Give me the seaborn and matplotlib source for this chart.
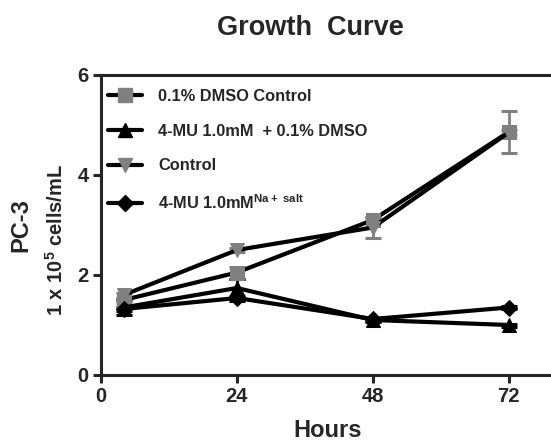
import numpy as np
import pandas as pd
import seaborn as sns
import matplotlib
matplotlib.use("Agg")
import matplotlib.pyplot as plt
from matplotlib.lines import Line2D

# ---- data ----
hours = [4, 24, 48, 72]
series_names = ["0.1% DMSO Control", "4-MU 1.0mM + 0.1% DMSO", "Control", "4-MU 1.0mM Na salt"]
dmso_ctrl = [1.50, 2.05, 3.10, 4.86]
dmso_ctrl_err = [0.05, 0.12, 0.05, 0.42]
mu_dmso = [1.35, 1.74, 1.10, 1.00]
mu_dmso_err = [0.15, 0.18, 0.04, 0.03]
control = [1.60, 2.50, 2.95, 4.85]
control_err = [0.05, 0.04, 0.20, 0.05]
mu_na = [1.32, 1.54, 1.12, 1.35]
mu_na_err = [0.04, 0.05, 0.03, 0.03]

legend_labels = ["0.1% DMSO Control",
                 "4-MU 1.0mM  + 0.1% DMSO",
                 "Control",
                 r"4-MU 1.0mM$^{\mathbf{Na+\ salt}}$"]

sns.set_style("ticks")
plt.rcParams["font.family"] = ["Liberation Sans", "DejaVu Sans"]
plt.rcParams["font.weight"] = "bold"
plt.rcParams["mathtext.fontset"] = "custom"
plt.rcParams["mathtext.rm"] = "Liberation Sans:bold"
plt.rcParams["mathtext.bf"] = "Liberation Sans:bold"
plt.rcParams["mathtext.it"] = "Liberation Sans:bold"

df = pd.DataFrame({
    "hours": hours * 4,
    "value": dmso_ctrl + mu_dmso + control + mu_na,
    "err": dmso_ctrl_err + mu_dmso_err + control_err + mu_na_err,
    "series": sum([[n] * len(hours) for n in series_names], []),
})

markers = {series_names[0]: "s", series_names[1]: "^", series_names[2]: "v", series_names[3]: "D"}
mcolors = {series_names[0]: "#808080", series_names[1]: "black",
           series_names[2]: "#808080", series_names[3]: "black"}
msizes = {series_names[0]: 10, series_names[1]: 10, series_names[2]: 10, series_names[3]: 8.5}

fig = plt.figure(figsize=(5.51, 4.47), dpi=100)
ax = fig.add_axes([101 / 551, 72 / 447, 453 / 551, 300 / 447])

for name in series_names:
    sub = df[df["series"] == name]
    ax.errorbar(sub["hours"], sub["value"], yerr=sub["err"], fmt="none",
                ecolor=mcolors[name], elinewidth=2, capsize=6, capthick=2.2, zorder=2)
    sns.lineplot(data=sub, x="hours", y="value", ax=ax, color="black",
                 linewidth=3, marker=markers[name], markersize=msizes[name],
                 markerfacecolor=mcolors[name], markeredgecolor=mcolors[name],
                 legend=False, zorder=3)

ax.set_xlim(0, 80)
ax.set_ylim(0, 6)
ax.set_xticks([0, 24, 48, 72])
ax.set_yticks([0, 2, 4, 6])
ax.tick_params(width=2.2, length=6, labelsize=14.5, pad=3)
for sp in ax.spines.values():
    sp.set_linewidth(2.2)
ax.spines["right"].set_visible(False)

ax.set_xlabel("Hours", fontsize=17, fontweight="bold", labelpad=9)
ax.set_ylabel("")
# two-line y label, second line set a bit smaller like the original
fig.text(21 / 551, 1 - 225 / 447, "PC-3", rotation=90, ha="center", va="center",
         fontsize=17, fontweight="bold")
fig.text(56 / 551, 1 - 240 / 447, "1 x 10$^5$ cells/mL", rotation=90, ha="center",
         va="center", fontsize=14.5, fontweight="bold")
fig.text(310 / 551, 1 - 35 / 447, "Growth  Curve", ha="center", va="baseline",
         fontsize=19.5, fontweight="bold")

handles = [Line2D([], [], color="black", linewidth=3, marker=markers[n],
                  markersize=msizes[n], markerfacecolor=mcolors[n],
                  markeredgecolor=mcolors[n]) for n in series_names]
ax.legend(handles, legend_labels, loc="upper left", frameon=False,
          prop={"size": 11.8, "weight": "bold"}, handlelength=2.1,
          handletextpad=1.0, labelspacing=1.2, borderaxespad=0.0,
          borderpad=0.4, bbox_to_anchor=(0.0, 0.975))

fig.savefig("out.png", dpi=100)
